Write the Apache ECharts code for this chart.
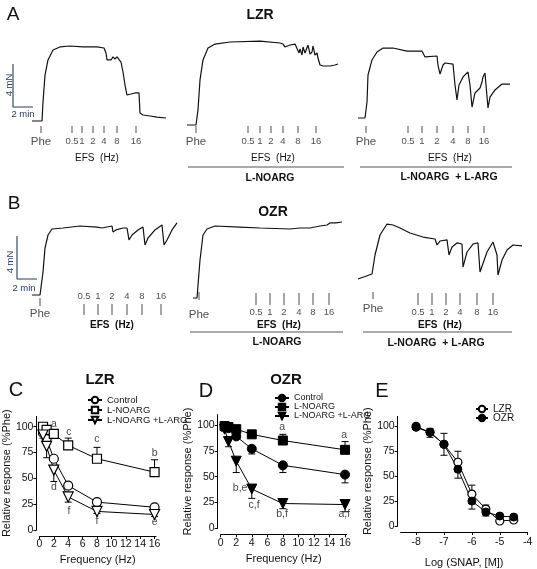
<!DOCTYPE html>
<html><head><meta charset="utf-8">
<script src="https://cdn.jsdelivr.net/npm/echarts@6/dist/echarts.min.js"></script>
<style>html,body{margin:0;padding:0;background:#fff}#c{width:537px;height:569px}</style>
</head><body><div id="c"></div>
<script>
// ================= DATA =================
const efsLabels = ['0.5','1','2','4','8','16'];
// Isometric tension traces: [time (min), force (mN)]
const traceA1 = [[3.2,0.37],[4.2,0.37],[4.3,2.14],[4.5,4.65],[4.8,6.05],[5.3,6.98],[6.0,7.26],[7.0,7.35],[8.3,7.26],[9.7,7.26],[10.4,7.16],[10.6,6.70],[10.7,6.05],[10.9,6.23],[11.1,6.05],[11.3,6.33],[11.5,6.14],[11.7,6.33],[11.9,6.23],[12.1,5.86],[12.3,4.93],[12.5,3.72],[12.7,2.79],[12.9,2.70],[13.1,2.88],[13.3,2.79],[13.5,2.98],[13.7,3.07],[13.9,2.98],[14.0,1.12],[14.3,0.93],[15.0,0.84],[15.7,0.74],[16.6,0.65]];
const traceA2 = [[0.7,0],[1.6,0],[1.8,1.40],[2.0,4.19],[2.3,6.05],[2.8,7.16],[3.5,7.53],[5.0,7.72],[8.0,7.81],[10.0,7.63],[10.3,7.53],[10.5,7.26],[11.0,7.44],[11.5,7.53],[11.7,7.35],[11.9,6.70],[12.0,7.07],[12.2,6.51],[12.3,7.26],[12.5,6.70],[12.7,6.79],[12.8,7.44],[13.0,6.60],[13.2,6.79],[13.3,7.35],[13.5,6.51],[13.7,6.70],[13.8,6.23],[14.0,5.58],[14.3,5.49],[15.0,5.49],[15.5,5.58],[15.8,5.67]];
const traceA3 = [[0.8,0.65],[1.5,0.65],[1.7,2.14],[1.8,4.65],[2.2,6.05],[2.7,6.79],[3.3,7.16],[4.3,7.16],[5.7,6.88],[7.2,6.88],[7.5,6.33],[8.7,6.42],[8.8,5.58],[9.0,4.74],[9.3,5.58],[9.5,5.77],[10.3,5.67],[10.5,3.72],[10.7,2.33],[10.9,3.72],[11.3,4.47],[11.8,4.93],[12.0,3.72],[12.2,1.67],[12.5,2.98],[13.0,3.44],[13.2,4.00],[13.3,4.47],[13.5,4.84],[13.6,3.72],[13.8,1.58],[14.0,2.60],[14.5,3.26],[15.2,3.81],[16.0,3.81]];
const traceB1 = [[3.2,0.28],[4.0,0.28],[4.3,2.42],[4.5,4.65],[4.8,5.86],[5.2,6.42],[6.3,6.51],[8.0,6.70],[9.7,6.60],[10.2,6.51],[11.2,6.70],[11.3,6.14],[11.6,6.33],[12.3,6.51],[12.7,6.51],[12.9,5.40],[13.2,5.86],[13.8,6.33],[14.3,6.60],[14.5,4.93],[14.8,5.58],[15.5,6.33],[16.2,6.79],[16.4,4.93],[16.7,5.40],[17.2,6.33],[17.7,6.98]];
const traceB2 = [[1.3,0],[1.7,0],[2.0,3.53],[2.3,5.86],[2.7,6.42],[3.5,6.70],[6.0,6.60],[8.0,6.51],[11.0,6.42],[12.0,6.51],[13.0,6.51],[13.2,6.60],[14.0,6.70],[14.7,6.79],[15.0,6.98],[15.6,6.98],[16.2,7.07]];
const traceB3 = [[0.8,1.77],[2.2,2.23],[2.5,4.00],[3.0,5.86],[3.7,6.88],[4.3,6.79],[5.0,6.51],[6.0,6.05],[7.3,5.67],[8.5,5.49],[8.7,4.93],[9.0,5.30],[9.7,5.40],[9.9,4.00],[10.2,4.74],[10.7,5.12],[11.2,5.02],[11.3,2.88],[11.7,4.28],[12.3,5.02],[12.8,5.12],[13.0,2.42],[13.2,2.33],[13.7,4.28],[14.3,5.21],[14.7,4.00],[14.8,2.14],[15.2,3.53],[15.7,4.47],[16.3,4.93],[17.2,4.84]];
// Stimulus times (min): phenylephrine and EFS frequencies
const pheTimes = [4.1, 1.6, 1.6, 4.0, 1.9, 2.3];
const efsA1 = [7.2, 8.2, 9.3, 10.4, 11.7, 13.6];
const efsA2 = [6.8, 8.0, 9.1, 10.3, 11.8, 13.6];
const efsA3 = [5.8, 7.2, 8.7, 10.3, 11.8, 13.4];
const efsB1 = [8.4, 9.8, 11.2, 12.7, 14.2, 16.1];
const efsB2 = [7.6, 9.0, 10.4, 11.9, 13.3, 14.9];
const efsB3 = [6.8, 8.2, 9.6, 11.0, 12.7, 14.3];
const scaleBarMN = 4, scaleBarMin = 2;

// Frequency-response curves (Hz, % Phe)
const freq = [0.5, 1, 2, 4, 8, 16];
const lzrControl = [94, 88, 69, 43, 27, 22];
const lzrControlSem = [2, 3, 3, 3, 2, 2];
const lzrNoarg = [100, 97, 93, 82, 69, 56];
const lzrNoargSem = [1, 2, 2, 7, 11, 12];
const lzrNoargArg = [92, 81, 58, 32, 18, 15];
const lzrNoargArgSem = [3, 11, 11, 5, 2, 2];
const lzrLetters = [[2.0, 103, 'a'], [4.1, 95, 'c'], [8.0, 88, 'c'], [16.0, 74, 'b'], [2.0, 42, 'd'], [4.1, 18, 'f'], [8.0, 9, 'f'], [16.0, 8, 'e']];

const ozrControl = [99, 97, 89, 77, 61, 52];
const ozrControlSem = [1, 1, 2, 5, 7, 8];
const ozrNoarg = [99, 98, 96, 91, 85, 76];
const ozrNoargSem = [1, 1, 1, 2, 6, 8];
const ozrNoargArg = [96, 84, 65, 38, 24, 23];
const ozrNoargArgSem = [2, 5, 11, 9, 5, 7];
const ozrLetters = [[7.9, 98, 'a'], [15.9, 90, 'a'], [2.5, 39, 'b,e'], [4.3, 22, 'c,f'], [7.9, 14, 'b,f'], [15.9, 14, 'a,f']];

// SNAP concentration-response (log M, % Phe)
const logSnap = [-8, -7.5, -7, -6.5, -6, -5.5, -5, -4.5];
const snapLZR = [100, 94, 82, 64, 32, 17, 5, 6];
const snapLZRSem = [1, 4, 11, 11, 9, 4, 1, 1];
const snapOZR = [99, 94, 82, 57, 25, 14, 10, 9];
const snapOZRSem = [2, 5, 11, 9, 8, 4, 1, 1];

const yTicks = [0, 25, 50, 75, 100];
const freqTicks = [0, 2, 4, 6, 8, 10, 12, 14, 16];
const logTicks = [-8, -7, -6, -5, -4];

// ================= BUILD =================
const FONT = 'Liberation Sans, Arial, sans-serif';
const PX_MN = 10.75, PX_MIN = 10;
const BASE_A = 125, BASE_B = 298;
const NAVY = '#243a5e';
const chart = echarts.init(document.getElementById('c'));

const traceLayout = [
  {left: 0, base: BASE_A, span: 18},
  {left: 180, base: BASE_A, span: 17},
  {left: 350, base: BASE_A, span: 18},
  {left: 0, base: BASE_B, span: 18},
  {left: 180, base: BASE_B, span: 17},
  {left: 350, base: BASE_B, span: 18}
];
const grids = [], xAxes = [], yAxes = [], series = [];
traceLayout.forEach((g, i) => {
  grids.push({left: g.left, top: g.base - 8 * PX_MN, width: g.span * PX_MIN, height: 12 * PX_MN});
  xAxes.push({type: 'value', gridIndex: i, min: 0, max: g.span, show: false});
  yAxes.push({type: 'value', gridIndex: i, min: -4, max: 8, show: false});
});
const traces = [traceA1, traceA2, traceA3, traceB1, traceB2, traceB3];
traces.forEach((d, i) => series.push({
  type: 'line', xAxisIndex: i, yAxisIndex: i, data: d, showSymbol: false, symbol: 'none',
  lineStyle: {color: '#111', width: 1.2}, silent: true, z: 3
}));
// stimulus ticks: per panel style (tick centre in mN, tick height px, label side, distance)
const efsSets = [efsA1, efsA2, efsA3, efsB1, efsB2, efsB3];
const efsStyle = [
  {y: -0.42, h: 7, pos: 'bottom', dist: 3},
  {y: -0.42, h: 7, pos: 'bottom', dist: 3},
  {y: -0.42, h: 7, pos: 'bottom', dist: 3},
  {y: -1.07, h: 11, pos: 'top', dist: 3},
  {y: -0.09, h: 12, pos: 'bottom', dist: 2},
  {y: -0.09, h: 12, pos: 'bottom', dist: 2}
];
const pheStyle = [
  {y: -0.42, h: 7, dist: 3},
  {y: -0.42, h: 7, dist: 3},
  {y: -0.42, h: 7, dist: 3},
  {y: -0.37, h: 8, dist: 2},
  {y: 0.19, h: 8, dist: 9},
  {y: 0.23, h: 7, dist: 4}
];
efsSets.forEach((times, i) => {
  const s = efsStyle[i];
  series.push({
    type: 'scatter', xAxisIndex: i, yAxisIndex: i, symbol: 'rect', symbolSize: [1, s.h],
    itemStyle: {color: '#222'}, silent: true,
    data: times.map((t, k) => ({name: efsLabels[k], value: [t, s.y]})),
    label: {show: true, position: s.pos, distance: s.dist, formatter: p => p.name,
      fontFamily: FONT, fontSize: 9.5, color: '#222'}
  });
  const p = pheStyle[i];
  series.push({
    type: 'scatter', xAxisIndex: i, yAxisIndex: i, symbol: 'rect', symbolSize: [1, p.h],
    itemStyle: {color: '#222'}, silent: true,
    data: [{name: 'Phe', value: [pheTimes[i], p.y]}],
    label: {show: true, position: 'bottom', distance: p.dist, formatter: q => q.name,
      fontFamily: FONT, fontSize: 11.5, color: '#222'}
  });
});
// scale bars (4 mN x 2 min)
[[0, 1.3, 1.67], [3, 1.7, 1.77]].forEach(([gi, x0, y0]) => series.push({
  type: 'line', xAxisIndex: gi, yAxisIndex: gi, showSymbol: false, symbol: 'none', silent: true,
  data: [[x0, y0 + scaleBarMN], [x0, y0], [x0 + scaleBarMin, y0]],
  lineStyle: {color: NAVY, width: 1.1}
}));

// ---- bottom plots ----
function addPlot(gi, grid, xmin, xmax, xticks, xname, xNameGap, xLabelMargin) {
  grids.push(grid);
  xAxes.push({
    type: 'value', gridIndex: gi, min: xmin, max: xmax, offset: 6,
    axisLine: {show: true, onZero: false, lineStyle: {color: '#000', width: 1}},
    axisTick: {show: true, length: 3, customValues: xticks, lineStyle: {color: '#000'}},
    axisLabel: {customValues: xticks, fontFamily: FONT, fontSize: 10.5, color: '#111', margin: xLabelMargin},
    splitLine: {show: false},
    name: xname, nameLocation: 'middle', nameGap: xNameGap,
    nameTextStyle: {fontFamily: FONT, fontSize: 11, color: '#111'}
  });
  yAxes.push({
    type: 'value', gridIndex: gi, min: 0, max: 110, offset: 3,
    axisLine: {show: true, onZero: false, lineStyle: {color: '#000', width: 1}},
    axisTick: {show: true, length: 3, customValues: yTicks, lineStyle: {color: '#000'}},
    axisLabel: {customValues: yTicks, fontFamily: FONT, fontSize: 10.5, color: '#111', margin: 3},
    splitLine: {show: false},
    name: 'Relative response (%Phe)', nameLocation: 'middle', nameGap: 17,
    nameTextStyle: {fontFamily: FONT, fontSize: 11, color: '#111'}
  });
}
addPlot(6, {left: 34.5, top: 416.4, width: 121.5, height: 113.6}, 0, 16.2, freqTicks, 'Frequency (Hz)', 18, 3);
addPlot(7, {left: 220.7, top: 414.7, width: 125.9, height: 113.6}, 0, 16.2, freqTicks, 'Frequency (Hz)', 19, 3);
addPlot(8, {left: 400.7, top: 416.4, width: 127, height: 113.6}, -8.55, -4, logTicks, 'Log (SNAP, [M])', 25, 5);

const OPEN = {color: '#fff', borderColor: '#000', borderWidth: 1.2};
const FILLED = {color: '#000', borderColor: '#000', borderWidth: 1};
function curve(gi, name, xs, ys, symbol, size, style, rotate) {
  series.push({
    type: 'line', name, xAxisIndex: gi, yAxisIndex: gi,
    data: xs.map((x, i) => [x, ys[i]]),
    symbol, symbolSize: size, symbolRotate: rotate || 0, showSymbol: true,
    itemStyle: style, lineStyle: {color: '#000', width: 1}, z: 4,
    emphasis: {disabled: true}
  });
}
function errBars(gi, xs, ys, sem, dir) {
  series.push({
    type: 'custom', xAxisIndex: gi, yAxisIndex: gi, silent: true, z: 2,
    data: xs.map((x, i) => [x, ys[i], ys[i] + dir * sem[i]]),
    renderItem: (params, api) => {
      const a = api.coord([api.value(0), api.value(1)]);
      const b = api.coord([api.value(0), api.value(2)]);
      const w = 3.5;
      return {type: 'group', children: [
        {type: 'line', shape: {x1: a[0], y1: a[1], x2: b[0], y2: b[1]}, style: {stroke: '#000', lineWidth: 1}},
        {type: 'line', shape: {x1: b[0] - w, y1: b[1], x2: b[0] + w, y2: b[1]}, style: {stroke: '#000', lineWidth: 1}}
      ]};
    }
  });
}
function letters(gi, arr) {
  series.push({
    type: 'scatter', xAxisIndex: gi, yAxisIndex: gi, symbolSize: 0, silent: true, z: 5,
    data: arr.map(a => ({name: a[2], value: [a[0], a[1]]})),
    label: {show: true, position: 'inside', formatter: p => p.name, fontFamily: FONT, fontSize: 10.5, color: '#111'}
  });
}
// C: LZR
errBars(6, freq, lzrControl, lzrControlSem, 1);
errBars(6, freq, lzrNoarg, lzrNoargSem, 1);
errBars(6, freq, lzrNoargArg, lzrNoargArgSem, -1);
curve(6, 'Control', freq, lzrControl, 'circle', 9, OPEN);
curve(6, 'L-NOARG', freq, lzrNoarg, 'rect', 9, OPEN);
curve(6, 'L-NOARG +L-ARG', freq, lzrNoargArg, 'triangle', 10, OPEN, 180);
letters(6, lzrLetters);
// D: OZR
errBars(7, freq, ozrControl, ozrControlSem, -1);
errBars(7, freq, ozrNoarg, ozrNoargSem, 1);
errBars(7, freq, ozrNoargArg, ozrNoargArgSem, -1);
curve(7, 'Control ', freq, ozrControl, 'circle', 9, FILLED);
curve(7, 'L-NOARG ', freq, ozrNoarg, 'rect', 9, FILLED);
curve(7, 'L-NOARG +L-ARG ', freq, ozrNoargArg, 'triangle', 10, FILLED, 180);
letters(7, ozrLetters);
// E: SNAP
errBars(8, logSnap, snapLZR, snapLZRSem, 1);
errBars(8, logSnap, snapOZR, snapOZRSem, -1);
curve(8, 'LZR', logSnap, snapLZR, 'circle', 8, OPEN);
curve(8, 'OZR', logSnap, snapOZR, 'circle', 8, FILLED);

const legendBase = {orient: 'vertical', itemWidth: 14, itemHeight: 8, itemGap: 0, padding: 0,
  selectedMode: false, textStyle: {fontFamily: FONT, fontSize: 9.5, color: '#111', lineHeight: 10}};
const legends = [
  Object.assign({}, legendBase, {left: 87, top: 395, data: ['Control', 'L-NOARG', 'L-NOARG +L-ARG']}),
  Object.assign({}, legendBase, {left: 274, top: 393, itemGap: -1, textStyle: {fontFamily: FONT, fontSize: 9, color: '#111', lineHeight: 10}, data: ['Control ', 'L-NOARG ', 'L-NOARG +L-ARG ']}),
  Object.assign({}, legendBase, {left: 475, top: 404, itemWidth: 12, itemGap: -1, textStyle: {fontFamily: FONT, fontSize: 10, color: '#111', lineHeight: 8}, data: ['LZR', 'OZR']})
];

// ---- annotation text ----
function txt(text, x, y, font, opts) {
  const fill = (opts && opts.fill) || '#111';
  const el = {type: 'text', silent: true, x, y,
    style: {text, x: 0, y: 0, font, fill, textAlign: 'center', textVerticalAlign: 'middle'}};
  if (opts && opts.rotation) el.rotation = opts.rotation;
  return el;
}
function hline(x1, x2, y) {
  return {type: 'line', silent: true, shape: {x1, y1: y, x2, y2: y}, style: {stroke: '#555', lineWidth: 1}};
}
const F = (w, s) => `${w} ${s}px ${FONT}`;
const graphic = [
  txt('A', 13, 15, F('normal', 19)),
  txt('LZR', 260, 15, F('bold', 14)),
  txt('B', 14, 204, F('normal', 19)),
  txt('OZR', 273, 212, F('bold', 14)),
  txt('4 mN', 9, 85, F('normal', 9.5), {rotation: Math.PI / 2, fill: NAVY}),
  txt('2 min', 23, 114, F('normal', 9.5), {fill: NAVY}),
  txt('4 mN', 10, 262, F('normal', 9.5), {rotation: Math.PI / 2, fill: NAVY}),
  txt('2 min', 24, 288, F('normal', 9.5), {fill: NAVY}),
  txt('EFS  (Hz)', 97, 158, F('normal', 10)),
  txt('EFS  (Hz)', 273, 158, F('normal', 10)),
  txt('EFS  (Hz)', 450, 158, F('normal', 10)),
  hline(188, 344, 167), hline(360, 512, 167),
  txt('L-NOARG', 270, 178, F('bold', 10.5)),
  txt('L-NOARG  + L-ARG', 449, 177, F('bold', 10.5)),
  txt('EFS  (Hz)', 112, 325, F('bold', 10)),
  txt('EFS  (Hz)', 279, 325, F('bold', 10)),
  txt('EFS  (Hz)', 440, 325, F('bold', 10)),
  hline(190, 343, 332), hline(363, 512, 332),
  txt('L-NOARG', 277, 342, F('bold', 10.5)),
  txt('L-NOARG  + L-ARG', 436, 343, F('bold', 10.5)),
  txt('C', 16, 390, F('normal', 20)),
  txt('LZR', 100, 380, F('bold', 15)),
  txt('D', 206, 391, F('normal', 20)),
  txt('OZR', 286, 380, F('bold', 15)),
  txt('E', 382, 391, F('normal', 20))
];

chart.setOption({
  animation: false,
  backgroundColor: '#fff',
  grid: grids, xAxis: xAxes, yAxis: yAxes, series,
  legend: legends,
  graphic
});
</script>
</body></html>
